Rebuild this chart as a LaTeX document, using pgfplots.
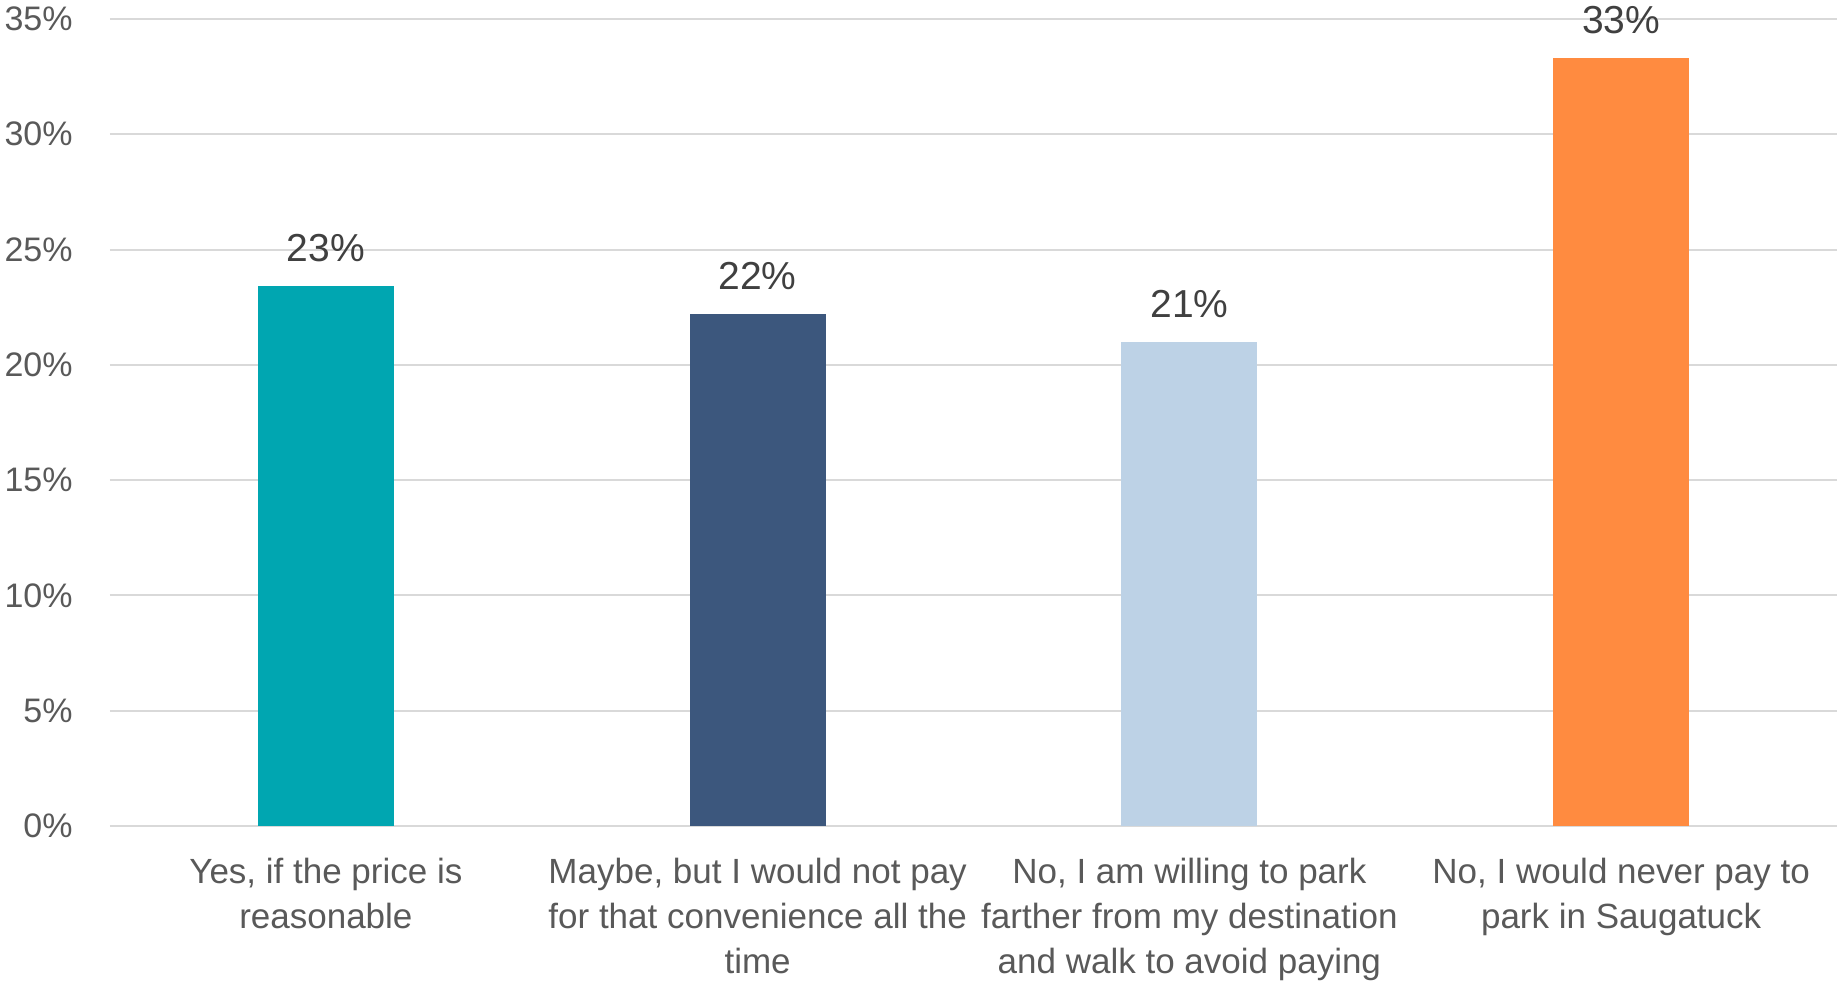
\documentclass[border=0pt]{standalone}
\usepackage{fontspec}
\setmainfont{Liberation Sans}
\usepackage{pgfplots}
\pgfplotsset{compat=1.18}
\definecolor{c1}{HTML}{00A6B1}
\definecolor{c2}{HTML}{3C577D}
\definecolor{c3}{HTML}{BDD2E6}
\definecolor{c4}{HTML}{FF8B40}
\definecolor{gridc}{HTML}{D9D9D9}
\definecolor{tickc}{HTML}{595959}
\definecolor{labc}{HTML}{404040}
\begin{document}
\begin{tikzpicture}
\begin{axis}[
  scale only axis, width=863.5pt, height=403.5pt,
  xmin=-0.5, xmax=3.5, ymin=0, ymax=35,
  clip=false,
  ytick={0,5,...,35},
  yticklabel={\pgfmathprintnumber{\tick}\%},
  /pgf/number format/assume math mode=true,
  ymajorgrids, major grid style={draw=gridc, line width=1pt},
  axis line style={draw=none}, tick style={draw=none},
  yticklabel style={anchor=east, inner sep=0pt, xshift=-18.5pt, font=\fontsize{17}{20}\selectfont, text=tickc},
  xtick={0,1,2,3},
  xticklabels={{Yes, if the price is\\reasonable},{Maybe, but I would not pay\\for that convenience all the\\time},{No, I am willing to park\\farther from my destination\\and walk to avoid paying},{No, I would never pay to\\park in Saugatuck}},
  xticklabel style={anchor=north, inner sep=0pt, yshift=-16pt, font=\fontsize{17.5}{22.5}\selectfont, text=tickc, align=center},
  nodes near coords={\pgfmathprintnumber[fixed,precision=0]{\pgfplotspointmeta}\%},
  nodes near coords style={font=\fontsize{19.5}{23}\selectfont, text=labc, anchor=south, inner sep=0pt, yshift=12pt, /pgf/number format/assume math mode=true},
]
\addplot[ybar, bar width=68pt, bar shift=0pt, fill=c1, draw=none] coordinates {(0,23.4)};
\addplot[ybar, bar width=68pt, bar shift=0pt, fill=c2, draw=none] coordinates {(1,22.2)};
\addplot[ybar, bar width=68pt, bar shift=0pt, fill=c3, draw=none] coordinates {(2,21.0)};
\addplot[ybar, bar width=68pt, bar shift=0pt, fill=c4, draw=none] coordinates {(3,33.3)};
\end{axis}
\pgfresetboundingbox
\path ([xshift=-55pt,yshift=-79pt]current axis.south west) rectangle ([yshift=9.5pt]current axis.north east);
\end{tikzpicture}
\end{document}
